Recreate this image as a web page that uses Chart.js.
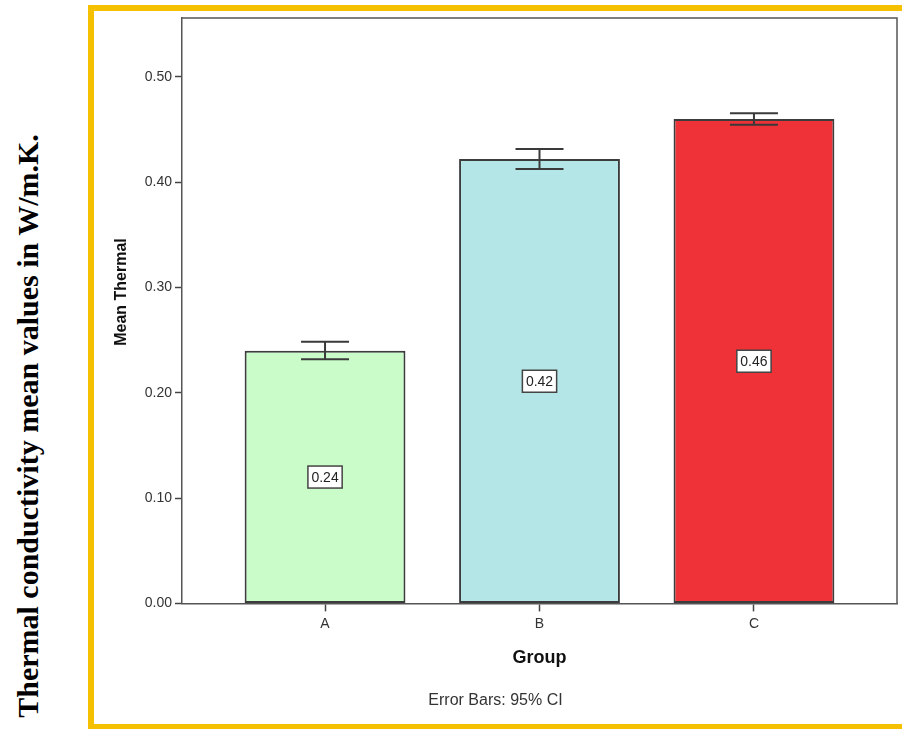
<!DOCTYPE html>
<html lang="en">
<head>
    <meta charset="UTF-8">
    <title>Thermal conductivity mean values</title>
    <script src="https://cdn.jsdelivr.net/npm/chart.js"></script>
    <style>
        body { margin: 0; background: #fff; font-family: Arial, "Liberation Sans", sans-serif; }
        #page { position: relative; width: 902px; height: 729px; overflow: hidden; background: #fff; }
        #frame {
            position: absolute; left: 88px; top: 5px; width: 900px; height: 713px;
            border-left: 6px solid #f5c000; border-top: 6px solid #f5c000; border-bottom: 5px solid #f5c000;
        }
        #sideLabel {
            position: absolute; left: 28px; top: 426px; white-space: nowrap;
            transform: translate(-50%, -50%) rotate(-90deg);
            font: bold 30px "Liberation Serif", "Times New Roman", serif; color: #000;
        }
        canvas { position: absolute; left: 0; top: 0; }
    </style>
</head>
<body>
<div id="page">
    <div id="frame"></div>
    <div id="sideLabel">Thermal conductivity mean values in W/m.K.</div>
    <canvas id="barChart" width="902" height="729"></canvas>
</div>

<script>
    // group means and 95% CI
    const groups = ['A', 'B', 'C'];
    const means = [0.240, 0.422, 0.460];
    const ciLow = [0.232, 0.4125, 0.4545];
    const ciHigh = [0.2485, 0.4315, 0.4655];
    const yTicks = [0, 0.1, 0.2, 0.3, 0.4, 0.5];

    const fontFamily = 'Arial, "Liberation Sans", sans-serif';

    // 95% CI whiskers
    const errorBars = {
        id: 'errorBars',
        afterDatasetsDraw(chart) {
            const { ctx, scales: { x, y } } = chart;
            ctx.save();
            ctx.strokeStyle = '#3a3a3a';
            ctx.lineWidth = 2;
            groups.forEach((g, i) => {
                const px = x.getPixelForValue(i);
                const top = y.getPixelForValue(ciHigh[i]);
                const bot = y.getPixelForValue(ciLow[i]);
                ctx.beginPath();
                ctx.moveTo(px, top); ctx.lineTo(px, bot);
                ctx.moveTo(px - 24, top); ctx.lineTo(px + 24, top);
                ctx.moveTo(px - 24, bot); ctx.lineTo(px + 24, bot);
                ctx.stroke();
            });
            ctx.restore();
        }
    };

    // boxed value labels in the middle of each bar
    const valueBoxes = {
        id: 'valueBoxes',
        afterDatasetsDraw(chart) {
            const { ctx, scales: { x, y } } = chart;
            ctx.save();
            ctx.font = '14px ' + fontFamily;
            ctx.textAlign = 'center';
            ctx.textBaseline = 'middle';
            means.forEach((m, i) => {
                const txt = m.toFixed(2);
                const px = x.getPixelForValue(i);
                const py = y.getPixelForValue(m / 2);
                const w = ctx.measureText(txt).width + 7;
                const h = 22;
                ctx.fillStyle = '#fff';
                ctx.fillRect(px - w / 2, py - h / 2, w, h);
                ctx.strokeStyle = '#444';
                ctx.lineWidth = 1.5;
                ctx.strokeRect(px - w / 2, py - h / 2, w, h);
                ctx.fillStyle = '#222';
                ctx.fillText(txt, px, py + 1);
            });
            ctx.restore();
        }
    };

    // top and right lines of the plot box, plus the y title
    const plotFrame = {
        id: 'plotFrame',
        afterDraw(chart) {
            const { ctx, chartArea: a } = chart;
            ctx.save();
            ctx.strokeStyle = '#555';
            ctx.lineWidth = 1.5;
            ctx.beginPath();
            ctx.moveTo(a.left, a.top); ctx.lineTo(a.right, a.top); ctx.lineTo(a.right, a.bottom);
            ctx.stroke();

            ctx.translate(122, 292);
            ctx.rotate(-Math.PI / 2);
            ctx.font = 'bold 16px ' + fontFamily;
            ctx.fillStyle = '#111';
            ctx.textAlign = 'center';
            ctx.textBaseline = 'middle';
            ctx.fillText('Mean Thermal', 0, 0);
            ctx.restore();
        }
    };

    new Chart(document.getElementById('barChart').getContext('2d'), {
        type: 'bar',
        data: {
            datasets: [{
                data: groups.map((g, i) => ({ x: i, y: means[i] })),
                backgroundColor: ['#c9fcc9', '#b4e6e7', '#ee3237'],
                borderColor: '#3c3c3c',
                borderWidth: 2,
                borderSkipped: false,
                barPercentage: 0.75,
                categoryPercentage: 1
            }]
        },
        options: {
            responsive: false,
            animation: false,
            layout: { padding: { left: 94, top: 18, right: 5, bottom: 19 } },
            plugins: {
                legend: { display: false },
                tooltip: { enabled: false },
                subtitle: {
                    display: true,
                    position: 'bottom',
                    text: 'Error Bars: 95% CI',
                    color: '#333',
                    font: { size: 16, family: fontFamily, weight: 'normal' },
                    padding: 0
                }
            },
            scales: {
                x: {
                    type: 'linear',
                    min: -0.667,
                    max: 2.667,
                    offset: false,
                    afterBuildTicks: axis => { axis.ticks = groups.map((g, i) => ({ value: i })); },
                    afterFit: axis => { axis.height = 87.4; },
                    ticks: {
                        callback: v => groups[v],
                        color: '#333',
                        font: { size: 14, family: fontFamily },
                        padding: 4,
                        maxRotation: 0
                    },
                    grid: { offset: false, drawOnChartArea: false, drawTicks: true, tickLength: 8, tickColor: '#444', tickWidth: 1.5 },
                    border: { color: '#555', width: 1.5 },
                    title: {
                        display: true,
                        text: 'Group',
                        color: '#111',
                        font: { size: 18, weight: 'bold', family: fontFamily },
                        padding: { top: 0, bottom: 21.6 }
                    }
                },
                y: {
                    min: 0,
                    max: 0.556,
                    afterBuildTicks: axis => { axis.ticks = yTicks.map(v => ({ value: v })); },
                    afterFit: axis => { axis.width = 88; },
                    ticks: {
                        callback: v => v.toFixed(2),
                        color: '#333',
                        font: { size: 14, family: fontFamily },
                        padding: 3
                    },
                    grid: { drawOnChartArea: false, drawTicks: true, tickLength: 7, tickColor: '#444', tickWidth: 1.5 },
                    border: { color: '#555', width: 1.5 }
                }
            }
        },
        plugins: [errorBars, valueBoxes, plotFrame]
    });
</script>
</body>
</html>
